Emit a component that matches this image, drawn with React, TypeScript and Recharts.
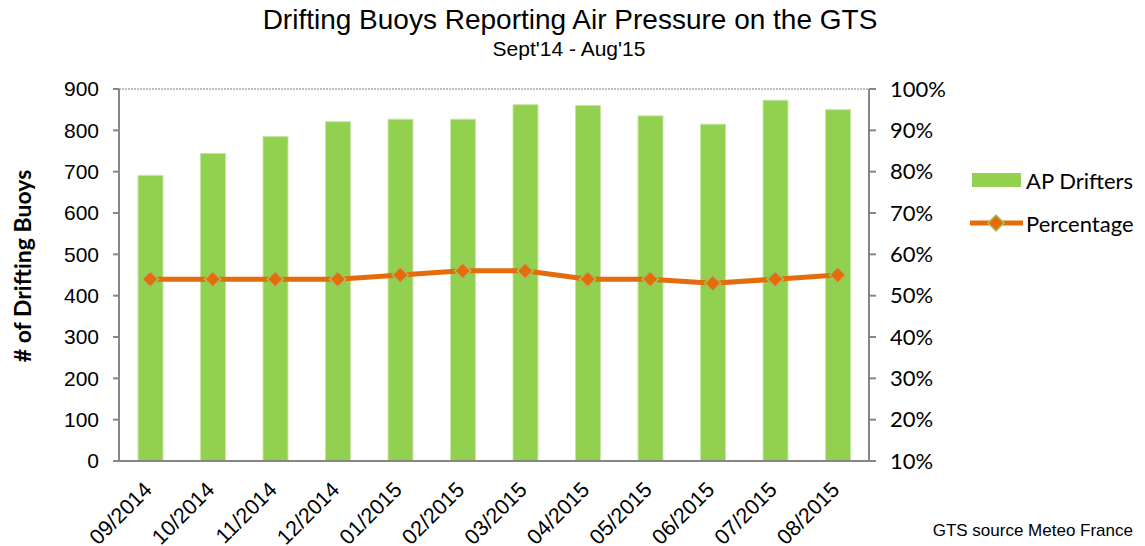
import React from 'react';
import { Bar, CartesianGrid, ComposedChart, Legend, Line, XAxis, YAxis } from 'recharts';

const months = ['09/2014', '10/2014', '11/2014', '12/2014', '01/2015', '02/2015', '03/2015', '04/2015', '05/2015', '06/2015', '07/2015', '08/2015'];
const apDrifters = [691, 744, 785, 821, 827, 827, 862, 860, 835, 815, 873, 850];
const percentage = [54, 54, 54, 54, 55, 56, 56, 54, 54, 53, 54, 55];
const countTicks = [0, 100, 200, 300, 400, 500, 600, 700, 800, 900];
const pctTicks = [10, 20, 30, 40, 50, 60, 70, 80, 90, 100];
const edgeTicks = [0, 1, 2, 3, 4, 5, 6, 7, 8, 9, 10, 11, 12];

const data = months.map((m, i) => ({ month: m, ap: apDrifters[i], pct: percentage[i] }));

const ARIAL = '"Liberation Sans", Arial, sans-serif';
const CALIBRI = 'Lato, "Open Sans", sans-serif';
const GREEN = '#92D050';
const ORANGE = '#E46C0A';
const AXIS = '#868686';

const MonthTick = (props: any) => {
    const { x, y, payload } = props;
    const tx = x + 3;
    const ty = y + 30;
    return (
        <text x={tx} y={ty} transform={`rotate(-45 ${tx} ${ty})`} textAnchor="end" fontFamily={ARIAL} fontSize={21.5} fill="#000">
            {payload.value}
        </text>
    );
};

const Diamond = (props: any) => {
    const { cx, cy, index } = props;
    const r = 8;
    return (
        <path
            key={index}
            d={`M${cx},${cy - r}L${cx + r},${cy}L${cx},${cy + r}L${cx - r},${cy}Z`}
            fill={ORANGE}
            stroke="#A4BF62"
            strokeWidth={1.5}
        />
    );
};

const YLabel = (props: any) => {
    const { viewBox } = props;
    const x = viewBox.x + 22;
    const y = viewBox.y + viewBox.height / 2 - 9;
    return (
        <text x={x} y={y} transform={`rotate(-90 ${x} ${y})`} textAnchor="middle" dominantBaseline="central"
            fontFamily={CALIBRI} fontWeight="bold" fontSize={23} fill="#000">
            # of Drifting Buoys
        </text>
    );
};

const LegendContent = (props: any) => {
    const { payload } = props;
    return (
        <svg width={177} height={80}>
            {(payload || []).map((entry: any, i: number) => {
                const cy = 20 + i * 43;
                return (
                    <g key={entry.value}>
                        {entry.type === 'line' ? (
                            <g>
                                <line x1={2} x2={55} y1={cy} y2={cy} stroke={ORANGE} strokeWidth={5} />
                                <path d={`M28,${cy - 8}L36,${cy}L28,${cy + 8}L20,${cy}Z`} fill={ORANGE} stroke="#A4BF62" strokeWidth={1.5} />
                            </g>
                        ) : (
                            <rect x={4} y={cy - 7} width={49} height={14} fill={GREEN} />
                        )}
                        <text x={58} y={cy} dominantBaseline="central" fontFamily={CALIBRI} fontSize={22} fill="#000">
                            {entry.value}
                        </text>
                    </g>
                );
            })}
        </svg>
    );
};

export default function App() {
    return (
        <div style={{ position: 'absolute', left: 0, top: 0, width: 1145, height: 546, background: '#fff' }}>
            <ComposedChart width={1145} height={546} data={data} margin={{ top: 89, right: 196, left: 0, bottom: 0 }}>
                <CartesianGrid vertical={false} stroke="#BDBDBD" strokeWidth={2} strokeDasharray="2 1" />
                <XAxis xAxisId="edges" type="number" domain={[0, 12]} ticks={edgeTicks} tick={false}
                    tickLine={{ stroke: AXIS, strokeWidth: 2 }} tickSize={7} axisLine={false} height={0} allowDataOverflow />
                <XAxis dataKey="month" height={85} tickLine={false} tickSize={0} tickMargin={0} interval={0}
                    axisLine={{ stroke: AXIS, strokeWidth: 2 }} tick={<MonthTick />} />
                <YAxis yAxisId="left" width={119} domain={[0, 900]} ticks={countTicks} interval={0}
                    tickSize={6} tickMargin={14} axisLine={{ stroke: AXIS, strokeWidth: 2 }} tickLine={{ stroke: AXIS, strokeWidth: 2 }}
                    tick={{ fontFamily: ARIAL, fontSize: 21, fill: '#000' }} label={{ content: <YLabel /> }} />
                <YAxis yAxisId="right" orientation="right" width={80} domain={[10, 100]} ticks={pctTicks} interval={0}
                    tickFormatter={(v: number) => `${v}%`} tickSize={7} tickMargin={14}
                    axisLine={{ stroke: AXIS, strokeWidth: 2 }} tickLine={{ stroke: AXIS, strokeWidth: 2 }}
                    tick={{ fontFamily: CALIBRI, fontSize: 22, fill: '#000' }} />
                <Legend layout="horizontal" verticalAlign="middle" align="center" content={<LegendContent />}
                    wrapperStyle={{ left: 968, top: 160, width: 177, height: 80 }} />
                <Bar yAxisId="left" dataKey="ap" name="AP Drifters" barSize={25} fill={GREEN} stroke="#C6E6A2" strokeWidth={1}
                    isAnimationActive={false} />
                <Line yAxisId="right" dataKey="pct" name="Percentage" type="linear" stroke={ORANGE} strokeWidth={5}
                    dot={<Diamond />} activeDot={false} legendType="line" isAnimationActive={false} />
            </ComposedChart>
            <div style={{ position: 'absolute', left: 0, top: 6, width: 1140, textAlign: 'center', fontFamily: ARIAL, fontSize: 28, lineHeight: '28px', color: '#000' }}>
                Drifting Buoys Reporting Air Pressure on the GTS
            </div>
            <div style={{ position: 'absolute', left: 0, top: 38, width: 1138, textAlign: 'center', fontFamily: ARIAL, fontSize: 21, lineHeight: '21px', color: '#000' }}>
                Sept'14 - Aug'15
            </div>
            <div style={{ position: 'absolute', right: 12, top: 522, fontFamily: ARIAL, fontSize: 17, lineHeight: '17px', color: '#000' }}>
                GTS source Meteo France
            </div>
        </div>
    );
}
